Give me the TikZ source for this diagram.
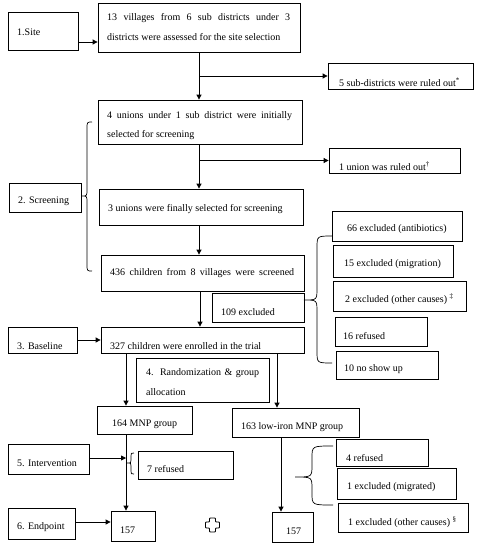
\documentclass[tikz,border=0pt]{standalone}
\usepackage{fontspec}
\setmainfont{Liberation Serif}
\usetikzlibrary{arrows.meta,fit}
\newcommand\mybrace[7]{% xend ytop xmid xtip ytip ybot r
  \draw[brc] (#1,#2) .. controls (#3,#2) .. (#3,{#2+#7}) -- (#3,{#5-#7})
    .. controls (#3,#5) .. (#4,#5) .. controls (#3,#5) .. (#3,{#5+#7})
    -- (#3,{#6-#7}) .. controls (#3,#6) .. (#1,#6);}
\begin{document}
\begin{tikzpicture}[x=1pt,y=-1pt,
  box/.style={draw, line width=0.8pt, inner sep=0pt},
  txt/.style={anchor=west, inner sep=0pt, font=\fontsize{10}{12}\selectfont},
  arr/.style={line width=0.8pt, -{Triangle[length=5pt,width=5pt]}},
  ln/.style={line width=0.8pt},
  brc/.style={line width=0.7pt}]
\useasboundingbox[fill=white] (0,0) rectangle (478,550);

% left stage boxes
\node[box, fit={(8,12)(78,50)}] (site) {};
\node[txt] (sitet) at (17,32) {1.Site};
\node[box, fit={(9,183)(81,212)}] (scr) {};
\node[txt] (scrt) at (18,201) {2. Screening};
\node[box, fit={(8,327)(77,353)}] (base) {};
\node[txt] (baset) at (17,346) {3. Baseline};
\node[box, fit={(8,444)(89,474)}] (inter) {};
\node[txt] (intert) at (17,463) {5. Intervention};
\node[box, fit={(8,508)(75,539)}] (endp) {};
\node[txt] (endpt) at (17,527) {6. Endpoint};

% main column
\node[box, fit={(98,3)(300,52)}] (b1) {};
\node[txt] (b1a) at (107,18) {\makebox[183pt][s]{13 villages from 6 sub districts under 3}};
\node[txt] (b1b) at (107,37) {districts were assessed for the site selection};
\node[box, fit={(98,100)(302,144)}] (b2) {};
\node[txt] (b2a) at (107,116) {\makebox[185pt][s]{4 unions under 1 sub district were initially}};
\node[txt] (b2b) at (107,135) {selected for screening};
\node[box, fit={(99,189)(303,225)}] (b3) {};
\node[txt] (b3t) at (108,209) {3 unions were finally selected for screening};
\node[box, fit={(101,255)(304,291)}] (b4) {};
\node[txt] (b4t) at (110,273) {\makebox[184pt][s]{436 children from 8 villages were screened}};
\node[box, fit={(212,293)(304,322)}] (ex) {};
\node[txt] (ext) at (221,312) {109 excluded};
\node[box, fit={(101,327)(304,353)}] (b5) {};
\node[txt] (b5t) at (110,346) {327 children were enrolled in the trial};
\node[box, fit={(136,358)(269,402)}] (rand) {};
\node[txt] (randa) at (146,373) {\makebox[113pt][s]{4. Randomization \& group}};
\node[txt] (randb) at (146,392) {allocation};
\node[box, fit={(97,406)(192,434)}] (g1) {};
\node[txt] (g1t) at (112,424) {164 MNP group};
\node[box, fit={(232,408)(359,437)}] (g2) {};
\node[txt] (g2t) at (241,427) {163 low-iron MNP group};
\node[box, fit={(138,451)(233,479)}] (ref7) {};
\node[txt] (ref7t) at (147,469) {7 refused};
\node[box, fit={(111,511)(155,541)}] (e1) {};
\node[txt] (e1t) at (120,530) {157};
\node[box, fit={(272,512)(313,542)}] (e2) {};
\node[txt] (e2t) at (286,531) {157};

% right column
\node[box, fit={(328,63)(473,89)}] (r1) {};
\node[txt] (r1t) at (339,82) {5 sub-districts were ruled out\textsuperscript{*}};
\node[box, fit={(329,148)(460,173)}] (r2) {};
\node[txt] (r2t) at (339,166) {1 union was ruled out\textsuperscript{\dag}};
\node[box, fit={(332,211)(462,241)}] (x1) {};
\node[txt] (x1t) at (347,229) {66 excluded (antibiotics)};
\node[box, fit={(333,245)(453,277)}] (x2) {};
\node[txt] (x2t) at (344,264) {15 excluded (migration)};
\node[box, fit={(333,281)(466,311)}] (x3) {};
\node[txt] (x3t) at (345,299) {2 excluded (other causes) \textsuperscript{\ddag}};
\node[box, fit={(335,317)(427,346)}] (x4) {};
\node[txt] (x4t) at (343,336) {16 refused};
\node[box, fit={(336,351)(438,379)}] (x5) {};
\node[txt] (x5t) at (344,369) {10 no show up};
\node[box, fit={(336,439)(428,466)}] (y1) {};
\node[txt] (y1t) at (346,458) {4 refused};
\node[box, fit={(337,468)(456,499)}] (y2) {};
\node[txt] (y2t) at (347,487) {1 excluded (migrated)};
\node[box, fit={(338,503)(468,532)}] (y3) {};
\node[txt] (y3t) at (348,522) {1 excluded (other causes) \textsuperscript{\S}};

% connectors
\draw[arr] (site.east |- 0,42) -- (b1.west |- 0,42);
\coordinate (j1) at (b1.south |- r1.west);
\draw[arr] (b1.south) -- (b1.south |- b2.north);
\draw[arr] (j1) -- (r1.west);
\coordinate (j2) at (199,0 |- r2.west);
\draw[arr] (199,0 |- b2.south) -- (199,0 |- b3.north);
\draw[arr] (j2) -- (r2.west);
\draw[arr] (199,0 |- b3.south) -- (199,0 |- b4.north);
\draw[arr] (200,0 |- b4.south) -- (200,0 |- b5.north);
\draw[arr] (base.east) -- (base.east -| b5.west);
\draw[arr] (126,0 |- b5.south) -- (126,0 |- g1.north);
\draw[arr] (277,0 |- b5.south) -- (277,0 |- g2.north);
\draw[arr] (126,0 |- g1.south) -- (126,0 |- e1.north);
\coordinate (iv) at (126,0 |- inter.east);
\draw[arr] (inter.east |- 0,458) -- (iv |- 0,458);
\draw[arr] (endp.east |- 0,522) -- (e1.west |- 0,522);
\draw[arr] (281,0 |- g2.south) -- (281,0 |- e2.north);

% braces
\mybrace{92}{122}{87}{82}{196}{271}{7}
\mybrace{332}{236}{317}{304}{300}{363}{12}
\mybrace{333}{446}{312}{295}{477}{505}{12}
\mybrace{134}{453}{131}{127}{463}{474}{3}

% cross symbol
\draw[ln, rounded corners=0.8pt] (209.5,518) -- (215.5,518) -- (215.5,522) -- (219.5,522)
  -- (219.5,528) -- (215.5,528) -- (215.5,532) -- (209.5,532) -- (209.5,528)
  -- (205.5,528) -- (205.5,522) -- (209.5,522) -- cycle;
\end{tikzpicture}
\end{document}
